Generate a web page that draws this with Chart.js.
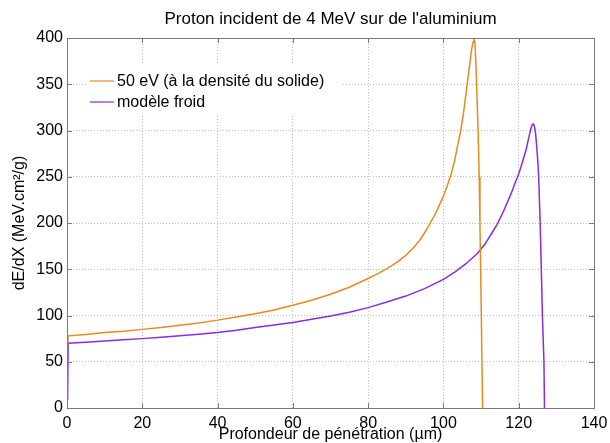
<!DOCTYPE html>
<html>
<head>
<meta charset="utf-8">
<script src="https://cdn.jsdelivr.net/npm/chart.js@4.4.1/dist/chart.umd.min.js"></script>
<style>
  html, body { margin: 0; padding: 0; background: #fff; }
  #wrap { width: 610px; height: 443px; }
</style>
</head>
<body>
<div id="wrap"><canvas id="braggChart"></canvas></div>
<script>
// Depth (µm) and stopping power (MeV.cm2/g), plasma at 50 eV
const depthHot = [0, 0.3, 5, 10, 15, 20, 25, 30, 35, 40, 45, 50, 55, 60, 65, 70, 75, 80, 83, 86, 88, 90, 92, 94, 96, 98, 100, 101, 102, 103, 104, 104.6, 105.3, 106, 106.5, 107, 107.5, 107.9, 108.1, 108.35, 108.6, 108.9, 109.2, 109.5, 109.7, 110, 110.4];
const dedxHot = [55, 78, 79.5, 81.5, 83, 85, 87, 89.5, 92, 95, 98.5, 102, 106, 111, 116.5, 123, 130.5, 140, 146, 153, 158.5, 165, 173, 183, 196, 211, 229, 240, 252, 268, 288, 300, 318, 340, 356, 372, 388, 396, 398, 396, 375, 340, 300, 250, 200, 120, 0];

// Cold target model
const depthCold = [0.15, 0.3, 5, 10, 15, 20, 25, 30, 35, 40, 45, 50, 55, 60, 65, 70, 75, 80, 85, 90, 95, 100, 103, 106, 109, 111, 113, 114.2, 116, 118, 119, 120, 121, 122, 122.6, 123, 123.3, 123.6, 123.9, 124.2, 124.5, 124.8, 125.1, 125.3, 125.7, 126, 126.3, 126.7, 126.85];
const dedxCold = [8, 70, 71.2, 72.5, 73.8, 75, 76.5, 78, 79.7, 81.5, 84, 87, 89.7, 92.5, 96, 99.5, 103.5, 108.5, 114.5, 121, 129, 139, 147, 156, 167, 177, 190, 198, 213, 232, 243, 253, 266, 280, 291, 298, 303, 306.5, 307, 304, 296, 282, 265, 250, 200, 150, 100, 50, 0];

const xTicks = [0, 20, 40, 60, 80, 100, 120, 140];
const yTicks = [0, 50, 100, 150, 200, 250, 300, 350, 400];
const chartTitle = "Proton incident de 4 MeV sur de l'aluminium";
const seriesLabels = ["50 eV (à la densité du solide)", "modèle froid"];

const colors = ["#e88a1e", "#8a2be2"];
const FONT = "'Liberation Sans', Arial, Helvetica, sans-serif";

function toPoints(xs, ys) {
  return xs.map((x, i) => ({ x: x, y: ys[i] }));
}

// title centred over the plot area rather than the whole canvas
const plotTitle = {
  id: "plotTitle",
  afterDraw(chart) {
    const { ctx, chartArea } = chart;
    ctx.save();
    ctx.font = "17px " + FONT;
    ctx.fillStyle = "#000";
    ctx.textAlign = "center";
    ctx.textBaseline = "middle";
    ctx.fillText(chartTitle, (chartArea.left + chartArea.right) / 2, 19);
    ctx.restore();
  }
};

// white legend box sitting inside the plot, over the grid
const insetLegend = {
  id: "insetLegend",
  afterDatasetsDraw(chart) {
    const { ctx, chartArea } = chart;
    const x0 = chartArea.left;
    const y0 = chartArea.top;
    ctx.save();
    ctx.fillStyle = "#fff";
    ctx.fillRect(x0 + 19, y0 + 25, 256, 51);
    ctx.font = "16px " + FONT;
    ctx.textBaseline = "middle";
    ctx.lineWidth = 1.2;
    seriesLabels.forEach((label, i) => {
      const y = y0 + 43 + i * 21;
      ctx.strokeStyle = colors[i];
      ctx.beginPath();
      ctx.moveTo(x0 + 23, y);
      ctx.lineTo(x0 + 47, y);
      ctx.stroke();
      ctx.fillStyle = "#000";
      ctx.fillText(label, x0 + 50, y + 1);
    });
    ctx.restore();
  }
};

// box around the axes with inward tick marks on all four sides
const axesBox = {
  id: "axesBox",
  afterDraw(chart) {
    const { ctx, chartArea, scales } = chart;
    const { left, right, top, bottom } = chartArea;
    const len = 5;
    ctx.save();
    ctx.strokeStyle = "#7a7a7a";
    ctx.lineWidth = 1;
    ctx.beginPath();
    scales.x.ticks.forEach(t => {
      const px = Math.round(scales.x.getPixelForValue(t.value)) + 0.5;
      ctx.moveTo(px, bottom);
      ctx.lineTo(px, bottom - len);
      ctx.moveTo(px, top);
      ctx.lineTo(px, top + len);
    });
    scales.y.ticks.forEach(t => {
      const py = Math.round(scales.y.getPixelForValue(t.value)) + 0.5;
      ctx.moveTo(left, py);
      ctx.lineTo(left + len, py);
      ctx.moveTo(right, py);
      ctx.lineTo(right - len, py);
    });
    ctx.stroke();
    ctx.strokeRect(Math.round(left) + 0.5, Math.round(top) + 0.5,
      Math.round(right - left), Math.round(bottom - top));
    ctx.restore();
  }
};

function lineSet(label, xs, ys, color) {
  return {
    label: label,
    data: toPoints(xs, ys),
    showLine: true,
    borderColor: color,
    borderWidth: 1.5,
    pointRadius: 0,
    tension: 0
  };
}

// fixed axis boxes: no extra room reserved for overhanging end labels
function fixSize(s, w, h) {
  if (w !== null) s.width = w;
  if (h !== null) s.height = h;
  s.paddingLeft = 0;
  s.paddingRight = 0;
  s.paddingTop = 0;
  s.paddingBottom = 0;
}

new Chart(document.getElementById("braggChart"), {
  type: "scatter",
  data: {
    datasets: [
      lineSet(seriesLabels[0], depthHot, dedxHot, colors[0]),
      lineSet(seriesLabels[1], depthCold, dedxCold, colors[1])
    ]
  },
  options: {
    responsive: true,
    maintainAspectRatio: false,
    animation: false,
    layout: { padding: { left: 0, right: 16, top: 38, bottom: 0 } },
    plugins: {
      legend: { display: false },
      tooltip: { enabled: false },
      title: { display: false }
    },
    scales: {
      x: {
        type: "linear",
        min: 0,
        max: 140,
        afterBuildTicks: s => { s.ticks = xTicks.map(v => ({ value: v })); },
        afterFit: s => fixSize(s, null, 35),
        grid: { color: "#bdbdbd", drawTicks: false, lineWidth: 1 },
        border: { display: false, dash: [1, 2] },
        ticks: {
          color: "#000",
          padding: 6,
          maxRotation: 0,
          font: { family: FONT, size: 16 }
        },
        title: {
          display: true,
          text: "Profondeur de pénétration (µm)",
          color: "#000",
          font: { family: FONT, size: 16, lineHeight: 1 },
          padding: { top: 0, bottom: 0 }
        }
      },
      y: {
        type: "linear",
        min: 0,
        max: 400,
        afterBuildTicks: s => { s.ticks = yTicks.map(v => ({ value: v })); },
        afterFit: s => fixSize(s, 67, null),
        grid: { color: "#bdbdbd", drawTicks: false, lineWidth: 1 },
        border: { display: false, dash: [1, 2] },
        ticks: {
          color: "#000",
          padding: 4,
          font: { family: FONT, size: 16 }
        },
        title: {
          display: true,
          text: "dE/dX (MeV.cm²/g)",
          color: "#000",
          font: { family: FONT, size: 16, lineHeight: 1 },
          padding: { top: 12, bottom: 0 }
        }
      }
    }
  },
  plugins: [insetLegend, axesBox, plotTitle]
});
</script>
</body>
</html>
